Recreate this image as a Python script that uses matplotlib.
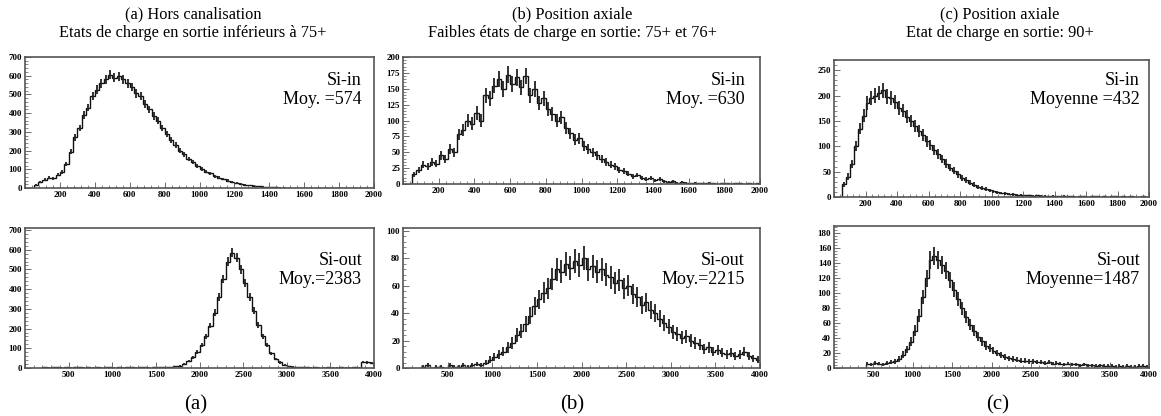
import numpy as np
import matplotlib.pyplot as plt
from matplotlib.ticker import MultipleLocator, AutoMinorLocator

plt.rcParams['font.family'] = ['Liberation Serif', 'DejaVu Serif']

# (a) Si-in : bins of 25 from 50 to 2000
a_in_start, a_in_width = 50, 25
a_in = [15, 30, 45, 55, 52, 70, 85, 130, 195, 270,
        320, 390, 430, 490, 525, 560, 580, 605, 590, 598,
        580, 560, 540, 505, 490, 450, 420, 385, 360, 320,
        290, 255, 230, 200, 180, 155, 140, 118, 102, 88,
        78, 64, 56, 47, 40, 33, 27, 22, 18, 14,
        11, 9, 7, 5, 4, 3, 2, 2,
        1, 1, 0, 1, 0, 0, 0, 0, 0, 0, 0, 0, 0, 0, 0, 0, 0, 0, 0, 0]

# (a) Si-out : bins of 50 from 200 to 4000
a_out_start, a_out_width = 200, 50
a_out = [3, 2, 4, 3, 2, 3, 2, 3, 4, 2, 3, 2, 3, 2, 3, 3, 2, 3, 2, 4,
         3, 2, 3, 3, 2, 3, 4, 3, 4, 5,
         8, 12, 20, 35, 55, 80, 115, 160, 215, 280,
         360, 450, 540, 585, 560, 500, 430, 360, 290, 220,
         160, 115, 75, 45, 28, 15, 9, 6,
         4, 3, 3, 2, 3, 2, 2, 3, 2, 2, 3, 2, 2, 3, 2,
         30, 28, 25]

# (b) Si-in : bins of 25 from 50 to 2000
b_in_start, b_in_width = 50, 25
b_in = [15, 22, 30, 28, 35, 32, 45, 40, 55, 50,
        78, 85, 100, 95, 112, 100, 140, 135, 155, 165,
        150, 172, 158, 168, 152, 170, 140, 150, 128, 135,
        118, 110, 100, 105, 88, 80, 70, 72, 60, 55,
        50, 45, 40, 35, 30, 28, 22, 20, 16, 12,
        14, 10, 8, 9, 6, 8, 4, 3, 4, 2,
        3, 2,
        1, 2, 1, 1, 2, 1, 0, 1, 1, 0, 1, 1, 0, 1, 0, 1]

# (b) Si-out : bins of 50 from 200 to 4000
b_out_start, b_out_width = 200, 50
b_out = [1, 2, 0, 1, 1, 0, 2, 1, 1, 2, 1, 2,
         3, 2, 4, 6, 8, 10, 12, 15, 18, 24,
         27, 32, 38, 45, 50, 55, 58, 65, 72, 70,
         76, 73, 78, 75, 80, 72, 74, 70, 72, 68,
         66, 62, 64, 58, 60, 54, 52, 46, 48, 42,
         40, 36, 33, 30, 26, 25, 22, 23, 20, 18,
         17, 14, 15, 12, 13, 11, 10, 11, 9, 10,
         12, 9, 7, 6]

# (c) Si-in : bins of 25 from 50 to 2000
c_in_start, c_in_width = 50, 25
c_in = [25, 40, 65, 100, 135, 160, 185, 195, 200, 205,
        210, 198, 195, 188, 175, 170, 158, 150, 140, 130,
        122, 110, 102, 92, 85, 75, 66, 58, 52, 45,
        38, 33, 28, 24, 20, 18, 15, 13, 11, 9,
        8, 7, 6, 5, 4, 4,
        3, 3, 2, 3, 2, 2, 1, 2,
        1, 1, 2, 1, 1, 0, 1, 1, 0, 1, 1, 0, 1, 0, 1, 1, 0, 1, 0, 1, 0, 0, 1, 0]

# (c) Si-out : bins of 50 from 400 to 4000
c_out_start, c_out_width = 400, 50
c_out = [6, 5, 7, 6, 5, 7, 8, 9,
         12, 18, 25, 35, 50, 70, 95, 120, 145, 150,
         145, 138, 130, 118, 105, 92, 80, 68, 58, 50,
         42, 36, 30, 27, 23, 20, 17, 15, 13, 12,
         11, 10, 10, 9, 9, 8, 8, 7, 8, 6,
         7, 6, 5, 6,
         5, 5, 4, 5, 4, 4, 3, 4, 3, 3,
         3, 2, 3, 2, 3, 2, 2, 3, 3, 2]

titles = ["(a) Hors canalisation\nEtats de charge en sortie inférieurs à 75+",
          "(b) Position axiale\nFaibles états de charge en sortie: 75+ et 76+",
          "(c) Position axiale\nEtat de charge en sortie: 90+"]
bottom_labels = ["(a)", "(b)", "(c)"]
top_notes = ["Si-in\nMoy. =574", "Si-in\nMoy. =630", "Si-in\nMoyenne =432"]
bot_notes = ["Si-out\nMoy.=2383", "Si-out\nMoy.=2215", "Si-out\nMoyenne=1487"]

fig = plt.figure(figsize=(11.61, 4.16), dpi=100)
W, H = 1161, 416


def add_ax(x0, x1, y0, y1):
    return fig.add_axes([x0 / W, 1 - y1 / H, (x1 - x0) / W, (y1 - y0) / H])


def draw_hist(ax, start, width, vals, xmax, ymax, xstep, ystep):
    vals = np.array(vals, dtype=float)
    edges = start + width * np.arange(len(vals) + 1)
    centers = 0.5 * (edges[:-1] + edges[1:])
    # statistical error bars, give the noisy band look of the original
    err = np.sqrt(vals)
    ax.vlines(centers, vals - err, vals + err, color='#222222', lw=1.3)
    ax.stairs(vals, edges, color='#111111', lw=1.0)
    ax.set_xlim(0, xmax)
    ax.set_ylim(0, ymax)
    ax.xaxis.set_major_locator(MultipleLocator(xstep))
    ax.yaxis.set_major_locator(MultipleLocator(ystep))
    ax.xaxis.set_minor_locator(AutoMinorLocator(5))
    ax.yaxis.set_minor_locator(AutoMinorLocator(5))
    ax.tick_params(which='both', direction='in', top=False, right=False,
                   labelsize=6.5, pad=2, color='#555555')
    ax.tick_params(which='major', length=4, width=0.6)
    ax.tick_params(which='minor', length=2, width=0.5)
    ax.set_xticks(ax.get_xticks())
    ax.set_xticklabels([str(int(t)) if 0 < t <= xmax else '' for t in ax.get_xticks()],
                       fontweight='bold', fontsize=6.5)
    ax.set_xlim(0, xmax)
    for lab in ax.get_yticklabels():
        lab.set_fontweight('bold')
    for s in ax.spines.values():
        s.set_color('#555555')
        s.set_linewidth(1.2)


boxes = [(25, 374), (403, 760), (834, 1149)]
top_y = [(57, 188), (57, 184), (60, 197)]
bot_y = [(228, 368), (228, 368), (226, 368)]
title_x = [193, 572, 1000]
label_x = [196, 572, 998]
note_x = [362, 745, 1140]

tops = [(a_in_start, a_in_width, a_in, 2000, 700, 200, 100),
        (b_in_start, b_in_width, b_in, 2000, 200, 200, 25),
        (c_in_start, c_in_width, c_in, 2000, 270, 200, 50)]
bots = [(a_out_start, a_out_width, a_out, 4000, 710, 500, 100),
        (b_out_start, b_out_width, b_out, 4000, 102, 500, 20),
        (c_out_start, c_out_width, c_out, 4000, 190, 500, 20)]

for i in range(3):
    x0, x1 = boxes[i]
    ax = add_ax(x0, x1, top_y[i][0], top_y[i][1])
    s, w, v, xm, ym, xs, ys = tops[i]
    draw_hist(ax, s, w, v, xm, ym, xs, ys)
    fig.text(note_x[i] / W, 1 - 90 / H, top_notes[i], ha='right', va='center',
             fontsize=13, linespacing=1.1)
    fig.text(title_x[i] / W, 1 - 6 / H, titles[i], ha='center', va='top',
             fontsize=11.8, linespacing=1.25)

    ax2 = add_ax(x0, x1, bot_y[i][0], bot_y[i][1])
    s, w, v, xm, ym, xs, ys = bots[i]
    draw_hist(ax2, s, w, v, xm, ym, xs, ys)
    fig.text(note_x[i] / W, 1 - 270 / H, bot_notes[i], ha='right', va='center',
             fontsize=13, linespacing=1.1)
    fig.text(label_x[i] / W, 1 - 405 / H, bottom_labels[i], ha='center',
             va='center', fontsize=15)

fig.savefig("out.png", dpi=100)
